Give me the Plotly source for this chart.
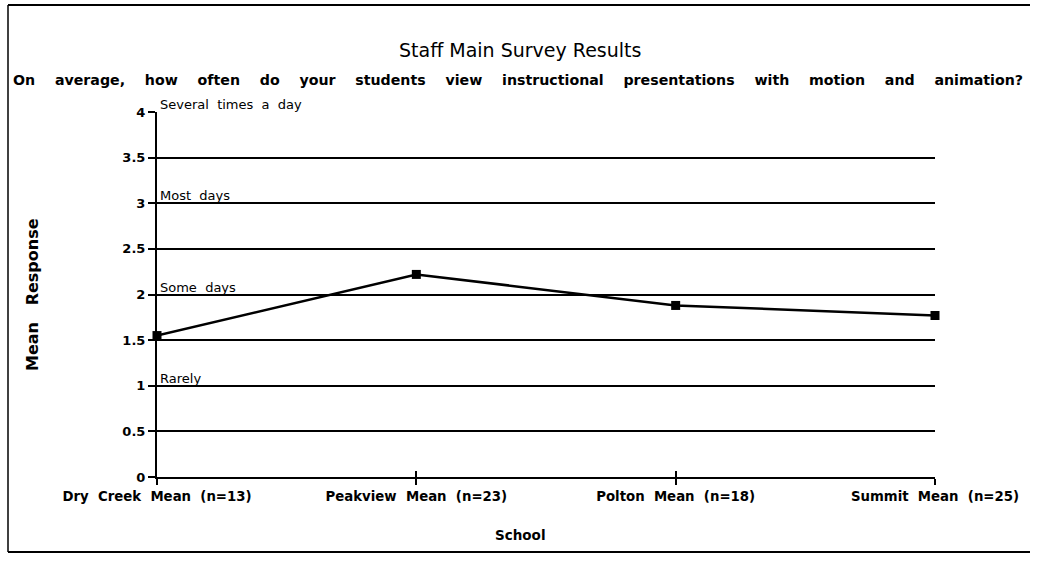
import plotly.graph_objects as go

schools = ["Dry Creek Mean (n=13)", "Peakview Mean (n=23)", "Polton Mean (n=18)", "Summit Mean (n=25)"]
mean_response = [1.55, 2.22, 1.88, 1.77]
y_ticks = [0, 0.5, 1, 1.5, 2, 2.5, 3, 3.5, 4]
y_tick_text = ["0", "0.5", "1", "1.5", "2", "2.5", "3", "3.5", "4"]
level_values = [4, 3, 2, 1]
level_labels = ["Several times a day", "Most days", "Some days", "Rarely"]

title_text = "Staff Main Survey Results"
subtitle_text = "On average, how often do your students view instructional presentations with motion and animation?"
x_title = "School"
y_title = "Mean Response"

NB = "\u00a0"
def widen(s, n):
    return s.replace(" ", NB * n)

L, R, T, B = 157, 106, 112, 85
W, H = 1041, 562
pw, ph = W - L - R, H - T - B

def px(x):
    return (x - L) / pw
def py(y):
    return (H - B - y) / ph

fig = go.Figure()
fig.add_trace(go.Scatter(
    x=list(range(len(schools))), y=mean_response, mode="lines+markers",
    line=dict(color="black", width=2.5),
    marker=dict(symbol="square", size=9, color="black"),
    showlegend=False, cliponaxis=False,
))
fig.add_trace(go.Scatter(x=[None], y=[None], xaxis="x2", showlegend=False))

bold = dict(family="DejaVu Sans", size=13, color="black", weight="bold")

fig.update_layout(
    width=W, height=H,
    margin=dict(l=L, r=R, t=T, b=B),
    paper_bgcolor="white", plot_bgcolor="white",
    xaxis=dict(
        range=[0, len(schools) - 1], tickmode="array",
        tickvals=list(range(len(schools))),
        ticktext=[widen(s, 2) for s in schools],
        ticks="outside", ticklen=6, tickwidth=1.5, tickcolor="black",
        showgrid=False, zeroline=False, showline=True, linecolor="black", linewidth=2,
        tickfont=dict(family="DejaVu Sans", size=13.3, color="black", weight="bold"),
    ),
    xaxis2=dict(
        range=[0, len(schools) - 1], overlaying="x", tickmode="array",
        tickvals=list(range(len(schools))), showticklabels=False,
        ticks="inside", ticklen=6, tickwidth=1.5, tickcolor="black",
        showgrid=False, zeroline=False, showline=False,
    ),
    yaxis=dict(
        range=[0, 4], tickmode="array", tickvals=y_ticks,
        ticktext=y_tick_text,
        ticks="outside", ticklen=7, tickwidth=1.5, tickcolor="black",
        showgrid=True, gridcolor="black", gridwidth=2,
        zeroline=False, showline=True, linecolor="black", linewidth=2,
        tickfont=bold,
    ),
)

annotations = []
annotations.append(dict(
    x=px(520), xref="paper", y=py(50), yref="paper", text=title_text, showarrow=False,
    font=dict(family="DejaVu Sans", size=19, color="black"), xanchor="center", yanchor="middle",
))
annotations.append(dict(
    x=px(11), xref="paper", y=py(80), yref="paper", text=widen(subtitle_text, 4), showarrow=False,
    font=dict(family="DejaVu Sans", size=14.2, color="black", weight="bold"), xanchor="left", yanchor="middle",
))
annotations.append(dict(
    x=px(520), xref="paper", y=py(535), yref="paper", text=x_title, showarrow=False,
    font=dict(family="DejaVu Sans", size=13.5, color="black", weight="bold"), xanchor="center", yanchor="middle",
))
annotations.append(dict(
    x=px(32), xref="paper", y=py(295), yref="paper", text=widen(y_title, 3), showarrow=False, textangle=-90,
    font=dict(family="DejaVu Sans", size=16, color="black", weight="bold"), xanchor="center", yanchor="middle",
))
for v, lab in zip(level_values, level_labels):
    annotations.append(dict(
        x=0, y=v, xref="x", yref="y", text=widen(lab, 2), showarrow=False,
        xanchor="left", yanchor="bottom", xshift=1, yshift=-2,
        font=dict(family="DejaVu Sans", size=13, color="black"),
    ))
fig.update_layout(annotations=annotations)

frame = dict(color="black", width=2)
fig.add_shape(type="line", xref="paper", yref="paper", x0=px(8), x1=px(1030), y0=py(5), y1=py(5), line=frame)
fig.add_shape(type="line", xref="paper", yref="paper", x0=px(8), x1=px(8), y0=py(5), y1=py(552), line=dict(color="black", width=1.5))
fig.add_shape(type="line", xref="paper", yref="paper", x0=px(8), x1=px(1030), y0=py(552), y1=py(552), line=frame)

fig.write_html("out.html", config={"displayModeBar": False},
               post_script="document.body.style.margin='0';document.body.style.overflow='hidden';")
